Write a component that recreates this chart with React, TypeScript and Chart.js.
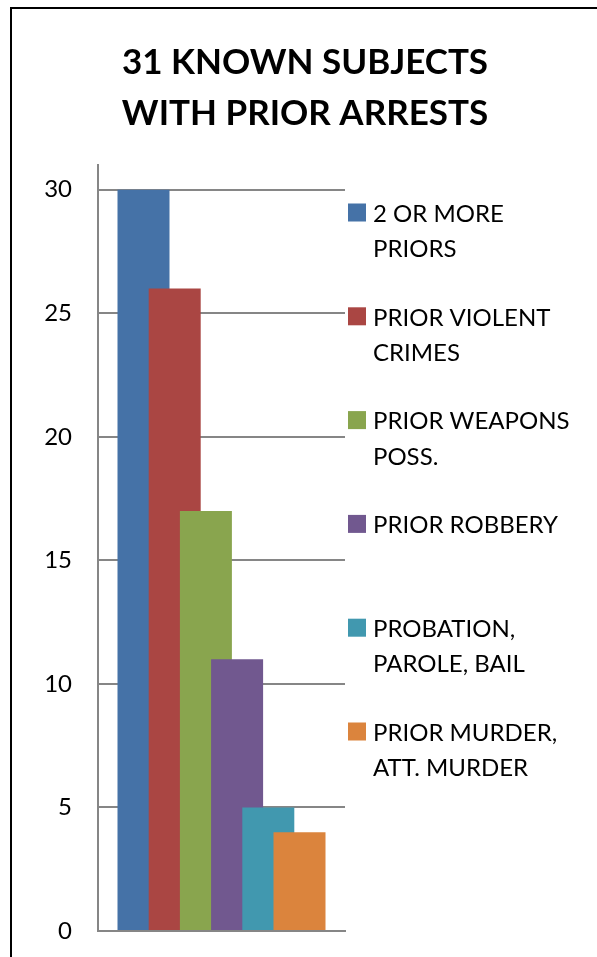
import React, { useEffect, useRef } from "react";
import { Chart, registerables } from "chart.js";

Chart.register(...registerables);

// ---- data ----
const TITLE_LINES = ["31 KNOWN SUBJECTS", "WITH PRIOR ARRESTS"];
const SERIES_LABELS: string[][] = [
  ["2 OR MORE", "PRIORS"],
  ["PRIOR VIOLENT", "CRIMES"],
  ["PRIOR WEAPONS", "POSS."],
  ["PRIOR ROBBERY"],
  ["PROBATION,", "PAROLE, BAIL"],
  ["PRIOR MURDER,", "ATT. MURDER"],
];
const SERIES_VALUES = [30, 26, 17, 11, 5, 4];
const SERIES_COLORS = ["#4572A7", "#AA4643", "#89A54E", "#71588F", "#4198AF", "#DB843D"];
const Y_MIN = 0;
const Y_MAX = 31;
const Y_STEP = 5;

// Excel-like clustered column settings (one category)
const GAP_WIDTH = 0.75;
const OVERLAP = 0.4;

const FONT = "Lato";
const GRID_COLOR = "#868686";

const sideLegend = {
  id: "sideLegend",
  afterDraw(chart: any) {
    const { ctx, chartArea } = chart;
    const left = chartArea.right + 3;
    const top = chartArea.top + 49;
    const itemSpacing = 103.8;
    const lineHeight = 35.5;
    const box = 18;
    ctx.save();
    ctx.font = `24px ${FONT}`;
    ctx.textBaseline = "middle";
    ctx.textAlign = "left";
    chart.data.datasets.forEach((ds: any, i: number) => {
      const y = top + i * itemSpacing;
      ctx.fillStyle = ds.backgroundColor;
      ctx.fillRect(left, y - box / 2 - 1.5, box, box);
      ctx.fillStyle = "#000";
      SERIES_LABELS[i].forEach((ln, j) => {
        ctx.fillText(ln, left + box + 7, y + j * lineHeight);
      });
    });
    ctx.restore();
  },
};

export default function App() {
  const ref = useRef<HTMLCanvasElement | null>(null);

  useEffect(() => {
    if (!ref.current) return;
    const n = SERIES_VALUES.length;
    const w = 1 / (1 + (n - 1) * (1 - OVERLAP) + GAP_WIDTH);
    const step = w * (1 - OVERLAP);
    const first = (GAP_WIDTH * w) / 2 + w / 2;

    const chart = new Chart(ref.current, {
      type: "bar",
      data: {
        datasets: SERIES_VALUES.map((v, i) => ({
          label: SERIES_LABELS[i].join(" "),
          data: [{ x: first + i * step, y: v }],
          backgroundColor: SERIES_COLORS[i],
          borderWidth: 0,
          grouped: false,
          order: n - i,
          categoryPercentage: 1,
          barPercentage: 1 / (1 - OVERLAP),
        })),
      },
      options: {
        responsive: false,
        animation: false,
        events: [],
        layout: { padding: { left: 0, right: 0, top: 0, bottom: 44 } },
        plugins: {
          legend: { display: false },
          tooltip: { enabled: false },
          title: {
            display: true,
            align: "center",
            text: TITLE_LINES,
            color: "#000",
            font: { family: FONT, size: 35, weight: "bold", lineHeight: 51 / 35 },
            padding: { top: 28, bottom: 26 },
          },
        },
        scales: {
          x: {
            type: "linear",
            min: 0,
            max: 1,
            offset: false,
            ticks: { display: false, stepSize: 1 },
            grid: { display: false, lineWidth: 2, drawTicks: false, offset: false },
            border: { display: true, color: GRID_COLOR, width: 2 },
            afterFit: (s: any) => {
              s.height = 0;
            },
          },
          y: {
            type: "linear",
            min: Y_MIN,
            max: Y_MAX,
            ticks: {
              stepSize: Y_STEP,
              includeBounds: false,
              padding: 26,
              color: "#000",
              font: { family: FONT, size: 24 },
            },
            grid: { color: GRID_COLOR, lineWidth: 2, drawTicks: false },
            border: { display: true, color: GRID_COLOR, width: 2 },
            afterFit: (s: any) => {
              s.width = 86;
            },
          },
          // invisible axis that only reserves room for the legend on the right
          legendSpace: {
            type: "linear",
            position: "right",
            display: true,
            ticks: { display: false },
            grid: { display: false, drawTicks: false },
            border: { display: false },
            afterFit: (s: any) => {
              s.width = 253;
            },
          },
        },
      } as any,
      plugins: [sideLegend],
    });
    return () => chart.destroy();
  }, []);

  return (
    <div style={{ position: "fixed", left: 0, top: 0, width: 597, height: 957, overflow: "hidden", background: "#fff" }}>
      <div
        style={{
          position: "absolute",
          left: 10,
          top: 7,
          width: 590,
          height: 970,
          border: "2px solid #000",
          boxSizing: "border-box",
          background: "#fff",
        }}
      >
        <canvas ref={ref} width={586} height={966} style={{ display: "block" }} />
      </div>
    </div>
  );
}
